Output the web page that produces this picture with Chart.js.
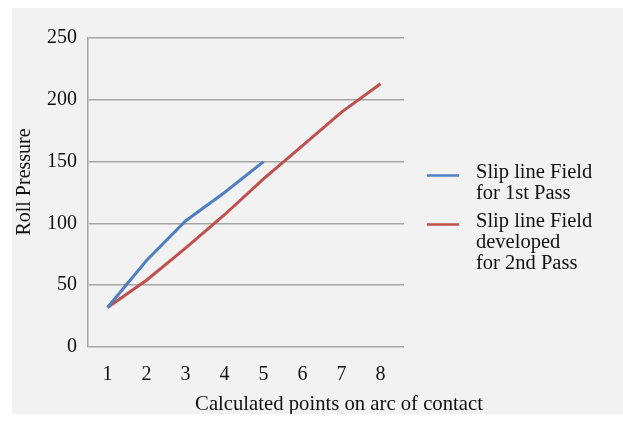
<!DOCTYPE html>
<html lang="en">
<head>
    <meta charset="UTF-8">
    <title>Roll Pressure</title>
    <script src="https://cdn.jsdelivr.net/npm/chart.js"></script>
    <style>
        body { margin: 0; background: #ffffff; }
        .panel { position: absolute; left: 12px; top: 8px; width: 611px; height: 406px; background: #f2f2f2; }
    </style>
</head>
<body>
    <div class="panel">
        <canvas id="rollChart" width="611" height="406"></canvas>
    </div>

    <script>
        // Chart data
        const points = [1, 2, 3, 4, 5, 6, 7, 8];
        const firstPass = [32, 70, 102, 125, 150];
        const secondPass = [32, 54, 80, 107, 136, 163, 190, 213];
        const yTicks = [0, 50, 100, 150, 200, 250];
        const seriesNames = [
            ['Slip line Field', 'for 1st Pass'],
            ['Slip line Field', 'developed', 'for 2nd Pass']
        ];
        const seriesColors = ['#4f7fc0', '#c0504d'];
        const xTitle = 'Calculated points on arc of contact';
        const yTitle = 'Roll Pressure';

        const font = "'Liberation Serif', 'Times New Roman', serif";

        // Axis titles and the legend are drawn here, the original has them off-centre
        const sideText = {
            id: 'sideText',
            afterDraw(chart) {
                const ctx = chart.ctx;
                const area = chart.chartArea;
                ctx.save();
                ctx.fillStyle = '#111';

                // x axis title
                ctx.font = '20.7px ' + font;
                ctx.textAlign = 'center';
                ctx.textBaseline = 'alphabetic';
                ctx.fillText(xTitle, area.left + 251, chart.height - 4);

                // y axis title, rotated
                ctx.font = '20px ' + font;
                ctx.translate(13, area.top + 144);
                ctx.rotate(-Math.PI / 2);
                ctx.textBaseline = 'middle';
                ctx.fillText(yTitle, 0, 0);
                ctx.setTransform(1, 0, 0, 1, 0, 0);

                // legend
                const lineX = area.right + 23;
                const textX = area.right + 72;
                const rowH = 21;
                let y = area.top + 135;
                ctx.font = '20.5px ' + font;
                ctx.textAlign = 'left';
                seriesNames.forEach((lines, i) => {
                    ctx.strokeStyle = seriesColors[i];
                    ctx.lineWidth = 2.5;
                    ctx.beginPath();
                    ctx.moveTo(lineX, y + 2.5);
                    ctx.lineTo(lineX + 32, y + 2.5);
                    ctx.stroke();
                    lines.forEach((t, j) => ctx.fillText(t, textX, y + j * rowH));
                    y += lines.length * rowH + 7;
                });
                ctx.restore();
            }
        };

        new Chart(document.getElementById('rollChart'), {
            type: 'line',
            data: {
                datasets: [
                    {
                        label: seriesNames[0].join(' '),
                        data: firstPass.map((v, i) => ({ x: points[i], y: v })),
                        borderColor: seriesColors[0],
                        borderWidth: 3,
                        pointRadius: 0,
                        tension: 0
                    },
                    {
                        label: seriesNames[1].join(' '),
                        data: secondPass.map((v, i) => ({ x: points[i], y: v })),
                        borderColor: seriesColors[1],
                        borderWidth: 3,
                        pointRadius: 0,
                        tension: 0
                    }
                ]
            },
            options: {
                responsive: false,
                animation: false,
                layout: { padding: { top: 30, right: 219, bottom: 0, left: 0 } },
                plugins: { legend: { display: false }, tooltip: { enabled: false } },
                scales: {
                    x: {
                        type: 'linear',
                        min: 0.5,
                        max: 8.6,
                        afterBuildTicks: (scale) => { scale.ticks = points.map(p => ({ value: p })); },
                        afterFit: (scale) => { scale.height = 67; },
                        grid: { display: false },
                        border: { display: false },
                        ticks: { color: '#111', font: { family: font, size: 20 }, padding: 8, maxRotation: 0 }
                    },
                    y: {
                        min: 0,
                        max: 250,
                        afterBuildTicks: (scale) => { scale.ticks = yTicks.map(v => ({ value: v })); },
                        afterFit: (scale) => { scale.width = 76; },
                        grid: { color: '#a6a6a6', lineWidth: 1.5, drawTicks: false },
                        border: { color: '#a6a6a6', width: 1.5 },
                        ticks: { color: '#111', font: { family: font, size: 20 }, padding: 11 }
                    }
                }
            },
            plugins: [sideText]
        });
    </script>
</body>
</html>
